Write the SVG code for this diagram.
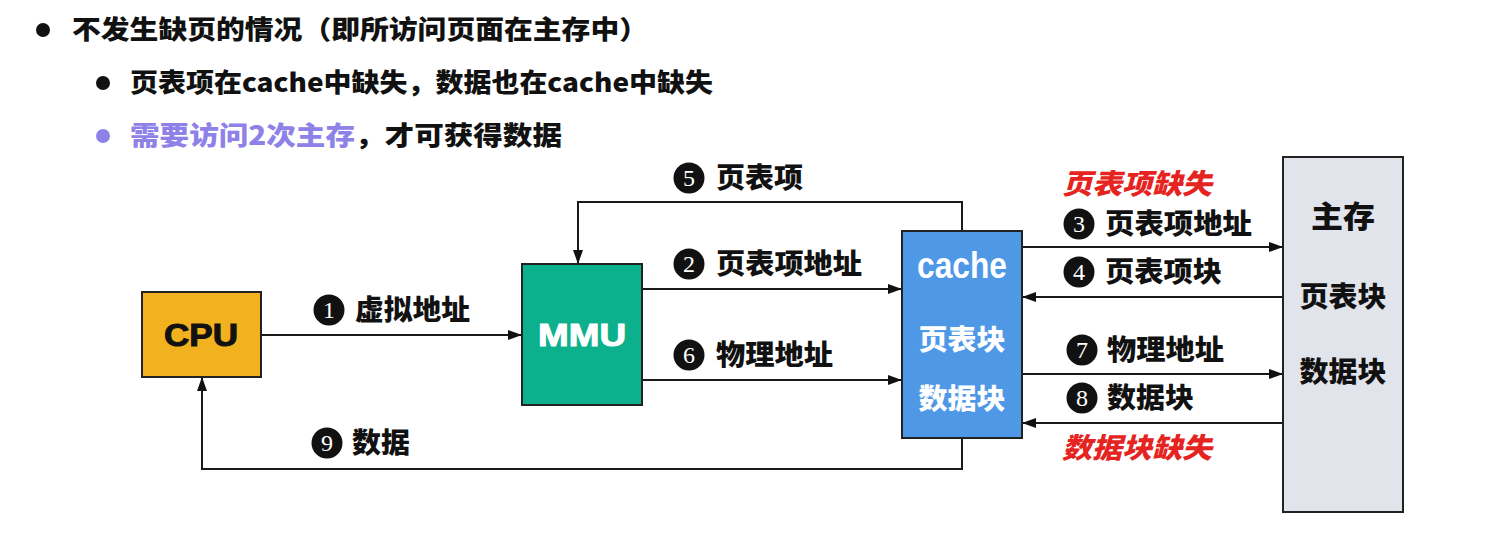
<svg xmlns="http://www.w3.org/2000/svg" width="1507" height="537" viewBox="0 0 1507 537">
<defs>
<marker id="ah" viewBox="0 0 14 10" refX="14" refY="5" markerWidth="14" markerHeight="10" markerUnits="userSpaceOnUse" orient="auto">
<path d="M0,0 L14,5 L0,10 Z" fill="#111"/>
</marker>
</defs>
<style>
.t{font-family:"Noto Sans CJK SC","Noto Sans",sans-serif;font-weight:900;fill:#111}
.lbl{font-size:28px}
.head{font-size:26px}
.red{font-family:"Noto Sans CJK SC",sans-serif;font-weight:900;font-style:italic;font-size:28px;fill:#E52421}
.num{font-family:"Liberation Serif",serif;font-size:24px;fill:#fff;text-anchor:middle}
.wire{fill:none;stroke:#1a1a1a;stroke-width:2}
.box{stroke:#222;stroke-width:2}
.wt{font-family:"Noto Sans CJK SC","Liberation Sans",sans-serif;font-weight:900;fill:#fff;text-anchor:middle}
</style>
<rect width="1507" height="537" fill="#fff"/>
<g id="header">
<circle cx="43" cy="30" r="7" fill="#111"/>
<text class="t head" x="72" y="39" textLength="576" lengthAdjust="spacingAndGlyphs">不发生缺页的情况（即所访问页面在主存中）</text>
<circle cx="103" cy="83" r="7" fill="#111"/>
<text class="t head" x="130" y="92" textLength="583" lengthAdjust="spacingAndGlyphs">页表项在cache中缺失，数据也在cache中缺失</text>
<circle cx="103" cy="136" r="7" fill="#8E82E8"/>
<text class="t head" x="130" y="145" textLength="432" lengthAdjust="spacingAndGlyphs"><tspan fill="#8E82E8">需要访问2次主存</tspan>，才可获得数据</text>
</g>
<g id="connectors">
<line class="wire" x1="261" y1="335" x2="522" y2="335" marker-end="url(#ah)"/>
<line class="wire" x1="642" y1="289" x2="902" y2="289" marker-end="url(#ah)"/>
<line class="wire" x1="642" y1="380" x2="902" y2="380" marker-end="url(#ah)"/>
<polyline class="wire" points="962,231 962,202 578,202 578,264" marker-end="url(#ah)"/>
<polyline class="wire" points="962,438 962,469 202,469 202,377" marker-end="url(#ah)"/>
<line class="wire" x1="1022" y1="247" x2="1283" y2="247" marker-end="url(#ah)"/>
<line class="wire" x1="1283" y1="297" x2="1022" y2="297" marker-end="url(#ah)"/>
<line class="wire" x1="1022" y1="374" x2="1283" y2="374" marker-end="url(#ah)"/>
<line class="wire" x1="1283" y1="423" x2="1022" y2="423" marker-end="url(#ah)"/>
</g>
<g id="labels">
<g id="l1"><circle cx="329" cy="310" r="15.5" fill="#111"/><text class="num" x="329" y="318">1</text><text class="t lbl" x="355" y="320" textLength="115" lengthAdjust="spacingAndGlyphs">虚拟地址</text></g>
<g id="l2"><circle cx="689" cy="264" r="15.5" fill="#111"/><text class="num" x="689" y="272">2</text><text class="t lbl" x="716" y="274" textLength="146" lengthAdjust="spacingAndGlyphs">页表项地址</text></g>
<g id="l5"><circle cx="689" cy="178" r="15.5" fill="#111"/><text class="num" x="689" y="186">5</text><text class="t lbl" x="716" y="188" textLength="87" lengthAdjust="spacingAndGlyphs">页表项</text></g>
<g id="l6"><circle cx="689" cy="355" r="15.5" fill="#111"/><text class="num" x="689" y="363">6</text><text class="t lbl" x="716" y="365" textLength="117" lengthAdjust="spacingAndGlyphs">物理地址</text></g>
<g id="l9"><circle cx="327" cy="443" r="15.5" fill="#111"/><text class="num" x="327" y="451">9</text><text class="t lbl" x="352" y="453" textLength="58" lengthAdjust="spacingAndGlyphs">数据</text></g>
<g id="l3"><circle cx="1079" cy="224" r="15.5" fill="#111"/><text class="num" x="1079" y="232">3</text><text class="t lbl" x="1105" y="234" textLength="147" lengthAdjust="spacingAndGlyphs">页表项地址</text></g>
<g id="l4"><circle cx="1079" cy="272" r="15.5" fill="#111"/><text class="num" x="1079" y="280">4</text><text class="t lbl" x="1105" y="282" textLength="117" lengthAdjust="spacingAndGlyphs">页表项块</text></g>
<g id="l7"><circle cx="1082" cy="350" r="15.5" fill="#111"/><text class="num" x="1082" y="358">7</text><text class="t lbl" x="1107" y="360" textLength="117" lengthAdjust="spacingAndGlyphs">物理地址</text></g>
<g id="l8"><circle cx="1082" cy="398" r="15.5" fill="#111"/><text class="num" x="1082" y="406">8</text><text class="t lbl" x="1107" y="408" textLength="87" lengthAdjust="spacingAndGlyphs">数据块</text></g>
<text class="red" x="1062" y="194" textLength="150" lengthAdjust="spacingAndGlyphs">页表项缺失</text>
<text class="red" x="1062" y="458" textLength="150" lengthAdjust="spacingAndGlyphs">数据块缺失</text>
</g>
<g id="cpu">
<rect class="box" x="142" y="292" width="119" height="85" fill="#F2B11E"/>
<text x="201" y="346" font-family="Liberation Sans,sans-serif" font-weight="bold" font-size="31" fill="#111" text-anchor="middle" stroke="#111" stroke-width="1" textLength="74" lengthAdjust="spacingAndGlyphs">CPU</text>
</g>
<g id="mmu">
<rect class="box" x="522" y="264" width="120" height="141" fill="#0DB08C"/>
<text x="582" y="346" font-family="Liberation Sans,sans-serif" font-weight="bold" font-size="31" fill="#fff" text-anchor="middle" stroke="#fff" stroke-width="1" textLength="88" lengthAdjust="spacingAndGlyphs">MMU</text>
</g>
<g id="cache">
<rect class="box" x="902" y="231" width="120" height="207" fill="#4F98E6"/>
<text class="wt" x="962" y="278" font-size="36" textLength="90" lengthAdjust="spacingAndGlyphs" style="font-family:'Liberation Sans',sans-serif;font-weight:bold">cache</text>
<text class="wt" x="962" y="350" font-size="28" textLength="87" lengthAdjust="spacingAndGlyphs">页表块</text>
<text class="wt" x="962" y="409" font-size="28" textLength="87" lengthAdjust="spacingAndGlyphs">数据块</text>
</g>
<g id="memory">
<rect class="box" x="1283" y="157" width="120" height="355" fill="#E2E4EC"/>
<text class="t" x="1343" y="227" font-size="30" text-anchor="middle" textLength="64" lengthAdjust="spacingAndGlyphs">主存</text>
<text class="t" x="1343" y="307" font-size="28" text-anchor="middle" textLength="87" lengthAdjust="spacingAndGlyphs">页表块</text>
<text class="t" x="1343" y="382" font-size="28" text-anchor="middle" textLength="87" lengthAdjust="spacingAndGlyphs">数据块</text>
</g>
</svg>
